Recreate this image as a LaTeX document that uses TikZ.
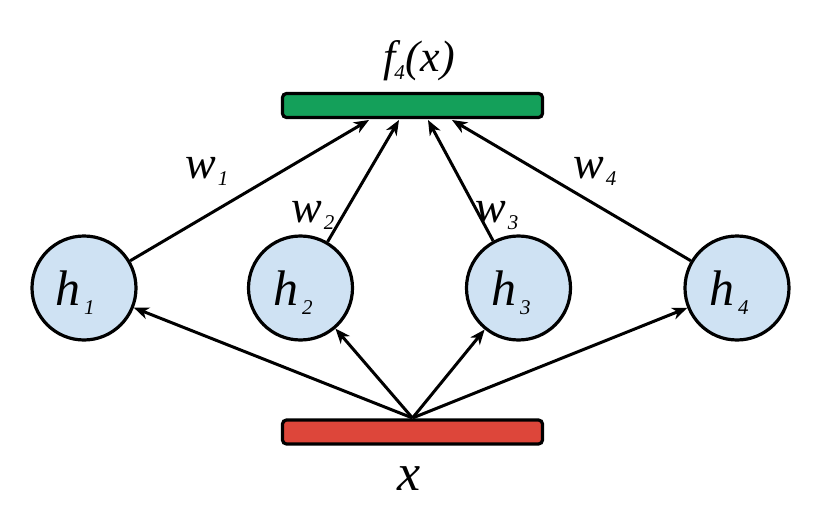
\documentclass[tikz,border=0pt]{standalone}
\usepackage{fontspec}
\setmainfont{Liberation Serif}
\usetikzlibrary{arrows.meta}
\definecolor{barGreen}{RGB}{20,160,90}
\definecolor{barRed}{RGB}{221,70,58}
\definecolor{nodeBlue}{RGB}{207,226,243}
% #1 letter, #2 subscript, #3 size, #4 subscript size, #5 kern, #6 drop
\newcommand{\biglab}[6]{{\fontsize{#3}{#3}\selectfont\itshape #1\kern#5\raisebox{-#6}{\fontsize{#4}{#4}\selectfont #2}}}
\begin{document}
\begin{tikzpicture}[x=1pt,y=-1pt,
  bar/.style={draw=black,line width=3.2pt,rounded corners=4pt,minimum width=260pt,minimum height=24pt,inner sep=0pt},
  hnode/.style={circle,draw=black,line width=3.2pt,fill=nodeBlue,minimum size=104pt,inner sep=0pt},
  conn/.style={line width=3pt,-{Stealth[length=15pt,width=12pt,inset=4.5pt]}},
  lab/.style={inner sep=0pt,anchor=base west}]
\useasboundingbox (0,0) rectangle (830,511);
\node[bar,fill=barGreen] (g) at (412.5,105.5) {};
\node[bar,fill=barRed] (r) at (412.5,432) {};
\node[hnode] (h1) at (84,288) {};
\node[hnode] (h2) at (300.5,288) {};
\node[hnode] (h3) at (518.5,288) {};
\node[hnode] (h4) at (737,288) {};
\coordinate (t1) at (369,120);
\coordinate (t2) at (399,120);
\coordinate (t3) at (428,120);
\coordinate (t4) at (452,120);
\coordinate (s) at (412.5,418);
\draw[conn] (h1) -- (t1);
\draw[conn] (h2) -- (t2);
\draw[conn] (h3) -- (t3);
\draw[conn] (h4) -- (t4);
\draw[conn] (s) -- (h1);
\draw[conn] (s) -- (h2);
\draw[conn] (s) -- (h3);
\draw[conn] (s) -- (h4);
\node[lab] (lh1) at (55,305) {\biglab{h}{1}{50}{21}{4pt}{9pt}};
\node[lab] (lh2) at (273,305) {\biglab{h}{2}{50}{21}{4pt}{9pt}};
\node[lab] (lh3) at (491,305) {\biglab{h}{3}{50}{21}{4pt}{9pt}};
\node[lab] (lh4) at (709,305) {\biglab{h}{4}{50}{21}{4pt}{9pt}};
\node[lab] (lw1) at (185,178) {\biglab{w}{1}{46}{21}{2pt}{7pt}};
\node[lab] (lw2) at (291,222) {\biglab{w}{2}{46}{21}{2pt}{7pt}};
\node[lab] (lw3) at (475,222) {\biglab{w}{3}{46}{21}{2pt}{7pt}};
\node[lab] (lw4) at (573,178) {\biglab{w}{4}{46}{21}{2pt}{7pt}};
\node[inner sep=0pt,anchor=base] (lf) at (419,72) {{\fontsize{44}{44}\selectfont\itshape f\kern-1pt\raisebox{-7pt}{\fontsize{21}{21}\selectfont 4}\kern1pt(x)}};
\node[inner sep=0pt,anchor=base] (lx) at (409,490) {{\fontsize{52}{52}\selectfont\itshape x}};
\end{tikzpicture}
\end{document}
